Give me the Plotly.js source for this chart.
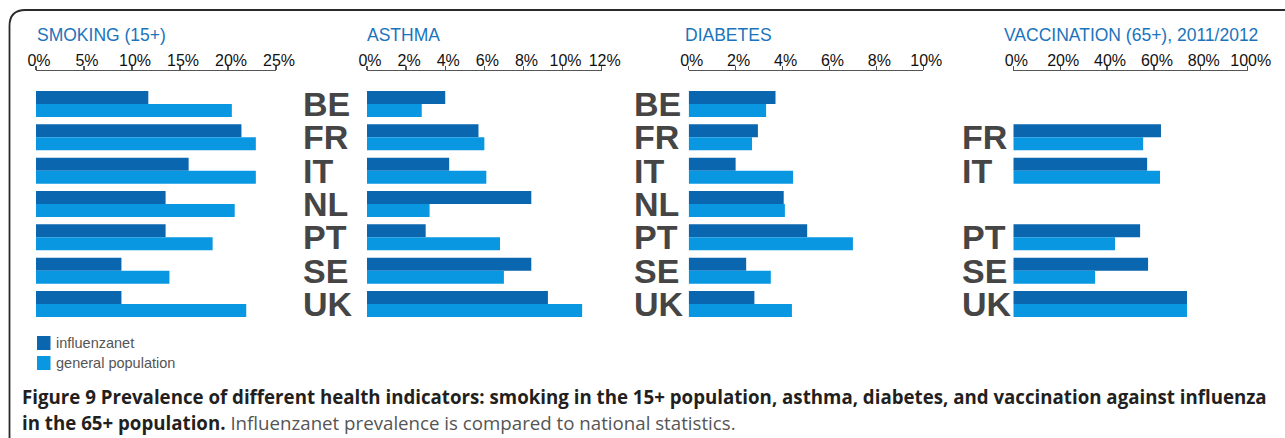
<!DOCTYPE html>
<html>
<head>
<meta charset="utf-8">
<script src="https://cdn.plot.ly/plotly-3.0.1.min.js"></script>
<style>html,body{margin:0;padding:0;background:#fff;}#chart{width:1285px;height:438px;}</style>
</head>
<body>
<div id="chart"></div>
<script>
// ---- data ----
const countries = ['BE','FR','IT','NL','PT','SE','UK'];
const panelTitles = ['SMOKING (15+)','ASTHMA','DIABETES','VACCINATION (65+), 2011/2012'];
const seriesNames = ['influenzanet','general population'];
const smokingInfluenzanet = [11.7, 21.4, 15.9, 13.5, 13.5, 8.9, 8.9];
const smokingGeneral      = [20.4, 22.9, 22.9, 20.7, 18.4, 13.9, 21.9];
const asthmaInfluenzanet  = [4.0, 5.7, 4.2, 8.4, 3.0, 8.4, 9.25];
const asthmaGeneral       = [2.8, 6.0, 6.1, 3.2, 6.8, 7.0, 11.0];
const diabetesInfluenzanet = [3.7, 2.95, 2.0, 4.05, 5.05, 2.45, 2.8];
const diabetesGeneral      = [3.3, 2.7, 4.45, 4.1, 7.0, 3.5, 4.4];
const vaccInfluenzanet = [null, 63.0, 57.1, null, 54.1, 57.5, 74.1];
const vaccGeneral      = [null, 55.4, 62.6, null, 43.4, 34.9, 74.1];
const axisMax = [25, 12, 10, 100];
const axisStep = [5, 2, 2, 20];
const captionBold1 = 'Figure 9 Prevalence of different health indicators: smoking in the 15+ population, asthma, diabetes, and vaccination against influenza';
const captionBold2 = 'in the 65+ population.';
const captionRest = ' Influenzanet prevalence is compared to national statistics.';

// ---- layout helpers ----
const W = 1285, H = 438;
const fx = p => p / W;
const fy = p => 1 - p / H;
const darkC = '#0966af', lightC = '#0a97e2';
const panels = [
  {inf: smokingInfluenzanet, gen: smokingGeneral, x0: 36, x1: 276, labelX: null, titleX: 36},
  {inf: asthmaInfluenzanet, gen: asthmaGeneral, x0: 367, x1: 601.7, labelX: 303, titleX: 366},
  {inf: diabetesInfluenzanet, gen: diabetesGeneral, x0: 688.7, x1: 923.3, labelX: 634, titleX: 684},
  {inf: vaccInfluenzanet, gen: vaccGeneral, x0: 1013.3, x1: 1247.7, labelX: 962, titleX: 1003}
];
const yTop = 87.3, yBot = 320.7, axisY = 69.5;

const data = [];
const layout = {
  width: W, height: H,
  margin: {l:0, r:0, t:0, b:0},
  paper_bgcolor: '#fff', plot_bgcolor: 'rgba(0,0,0,0)',
  showlegend: false,
  barmode: 'group', bargap: 0.22, bargroupgap: 0,
  annotations: [], shapes: []
};

panels.forEach((p, i) => {
  const n = i + 1;
  const xa = 'x' + (n === 1 ? '' : n), ya = 'y' + (n === 1 ? '' : n);
  [p.inf, p.gen].forEach((vals, k) => {
    data.push({
      type: 'bar', orientation: 'h', name: seriesNames[k],
      x: vals, y: countries, xaxis: xa, yaxis: ya,
      marker: {color: k === 0 ? darkC : lightC, line: {width: 0}},
      hoverinfo: 'x+y+name'
    });
  });
  const tv = [];
  for (let v = 0; v <= axisMax[i]; v += axisStep[i]) tv.push(v);
  layout['xaxis' + (n === 1 ? '' : n)] = {
    domain: [fx(p.x0), fx(p.x1)], range: [0, axisMax[i]],
    anchor: 'free', position: fy(axisY), side: 'top',
    tickmode: 'array', tickvals: tv, ticktext: tv.map(v => v + '%'),
    ticks: 'outside', ticklen: 4, tickwidth: 1.3,
    tickcolor: '#555', showline: true, linecolor: '#555', linewidth: 1.3,
    showgrid: false, zeroline: false, ticklabelshift: 3, ticklabelstandoff: -7,
    tickfont: {family: 'Liberation Sans, Arial, sans-serif', size: 16, color: '#111'},
    fixedrange: true
  };
  layout['yaxis' + (n === 1 ? '' : n)] = {
    domain: [fy(yBot), fy(yTop)], type: 'category', categoryarray: countries,
    range: [6.5, -0.5], anchor: (n === 1 ? 'x' : 'x' + n),
    showticklabels: false, showgrid: false, zeroline: false, showline: false, ticks: '',
    fixedrange: true
  };
  layout.annotations.push({
    xref: 'paper', yref: 'paper', x: fx(p.titleX - 1), y: fy(35), xanchor: 'left', yanchor: 'middle',
    text: panelTitles[i], showarrow: false,
    font: {family: 'Liberation Sans, Arial, sans-serif', size: 17.5, color: '#1b74bb'}
  });
  if (p.labelX !== null) {
    countries.forEach((c, j) => {
      if (p.inf[j] === null && p.gen[j] === null) return;
      layout.annotations.push({
        xref: 'paper', yref: ya, x: fx(p.labelX - 2), y: c, xanchor: 'left', yanchor: 'middle',
        text: '<b>' + c + '</b>', showarrow: false,
        font: {family: 'Liberation Sans, Arial, sans-serif', size: 34, color: '#454545'}
      });
    });
  }
});

// legend
[[336, darkC, seriesNames[0]], [356, lightC, seriesNames[1]]].forEach(([top, col, txt]) => {
  layout.shapes.push({type: 'rect', xref: 'paper', yref: 'paper', x0: fx(37), x1: fx(50.5), y0: fy(top), y1: fy(top + 14), fillcolor: col, line: {width: 0}});
  layout.annotations.push({xref: 'paper', yref: 'paper', x: fx(54), y: fy(top + 7), xanchor: 'left', yanchor: 'middle', text: txt, showarrow: false,
    font: {family: 'Liberation Sans, Arial, sans-serif', size: 14.5, color: '#555'}});
});

// caption
layout.annotations.push({xref: 'paper', yref: 'paper', x: fx(20), y: fy(396), xanchor: 'left', yanchor: 'middle',
  text: '<b>' + captionBold1 + '</b>', showarrow: false,
  font: {family: 'Open Sans, sans-serif', size: 18.7, color: '#231f20'}});
layout.annotations.push({xref: 'paper', yref: 'paper', x: fx(20), y: fy(422), xanchor: 'left', yanchor: 'middle',
  text: '<b>' + captionBold2 + '</b><span style="color:#555;font-weight:normal">' + captionRest + '</span>', showarrow: false,
  font: {family: 'Open Sans, sans-serif', size: 18.7, color: '#231f20'}});

// frame
const L = 9.5, T = 10, R = 16;
layout.shapes.push({type: 'path', xref: 'paper', yref: 'paper',
  path: `M ${fx(L)},${fy(H + 2)} L ${fx(L)},${fy(T + R)} Q ${fx(L)},${fy(T)} ${fx(L + R)},${fy(T)} L ${fx(W + 2)},${fy(T)}`,
  line: {color: '#2a2a2a', width: 1.8}});

Plotly.newPlot('chart', data, layout, {displayModeBar: false, staticPlot: true});
</script>
</body>
</html>
